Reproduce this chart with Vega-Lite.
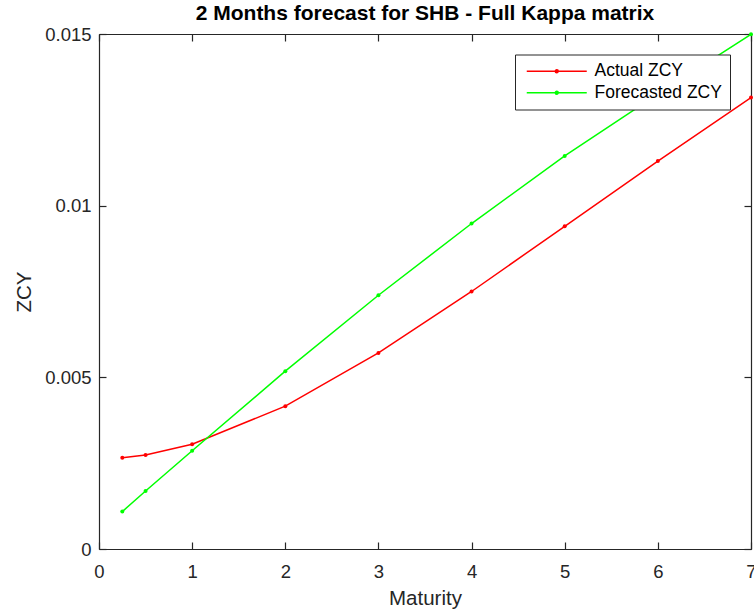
{
  "$schema": "https://vega.github.io/schema/vega-lite/v6.json",
  "width": 652,
  "height": 515,
  "autosize": "none",
  "padding": {"left": 99, "top": 34, "right": 3, "bottom": 63},
  "background": "white",
  "config": {
    "font": "Liberation Sans",
    "view": {"stroke": null},
    "axis": {
      "grid": false,
      "domainColor": "#262626",
      "tickColor": "#262626",
      "labelColor": "#262626",
      "titleColor": "#262626",
      "domainWidth": 1.2,
      "tickWidth": 1.2,
      "labelFont": "Liberation Sans",
      "titleFont": "Liberation Sans",
      "labelFontSize": 18.5,
      "titleFontSize": 20.5,
      "titleFontWeight": "normal",
      "labelFlush": false,
      "labelOverlap": false
    }
  },
  "title": {
    "text": "2 Months forecast for SHB - Full Kappa matrix",
    "font": "Liberation Sans",
    "fontSize": 21,
    "fontWeight": "bold",
    "color": "#000000",
    "anchor": "middle",
    "frame": "group",
    "baseline": "bottom",
    "offset": 0,
    "dy": 19.5
  },
  "data": {
    "values": [
      {"maturity": 0.25, "series": "Actual ZCY", "zcy": 0.00266},
      {"maturity": 0.5, "series": "Actual ZCY", "zcy": 0.00274},
      {"maturity": 1, "series": "Actual ZCY", "zcy": 0.00305},
      {"maturity": 2, "series": "Actual ZCY", "zcy": 0.00416},
      {"maturity": 3, "series": "Actual ZCY", "zcy": 0.00571},
      {"maturity": 4, "series": "Actual ZCY", "zcy": 0.0075},
      {"maturity": 5, "series": "Actual ZCY", "zcy": 0.0094},
      {"maturity": 6, "series": "Actual ZCY", "zcy": 0.0113},
      {"maturity": 7, "series": "Actual ZCY", "zcy": 0.01315},
      {"maturity": 0.25, "series": "Forecasted ZCY", "zcy": 0.00109},
      {"maturity": 0.5, "series": "Forecasted ZCY", "zcy": 0.00169},
      {"maturity": 1, "series": "Forecasted ZCY", "zcy": 0.00286},
      {"maturity": 2, "series": "Forecasted ZCY", "zcy": 0.00518},
      {"maturity": 3, "series": "Forecasted ZCY", "zcy": 0.00739},
      {"maturity": 4, "series": "Forecasted ZCY", "zcy": 0.00948},
      {"maturity": 5, "series": "Forecasted ZCY", "zcy": 0.01145},
      {"maturity": 6, "series": "Forecasted ZCY", "zcy": 0.01325},
      {"maturity": 7, "series": "Forecasted ZCY", "zcy": 0.01499}
    ]
  },
  "layer": [
    {
      "mark": {"type": "line", "strokeWidth": 1.5, "clip": true},
      "encoding": {
        "x": {
          "field": "maturity", "type": "quantitative",
          "scale": {"domain": [0, 7], "nice": false, "zero": false},
          "axis": {
            "orient": "bottom", "values": [0, 1, 2, 3, 4, 5, 6, 7],
            "tickSize": -7, "labelPadding": 20, "title": "Maturity", "titlePadding": 8
          }
        },
        "y": {
          "field": "zcy", "type": "quantitative",
          "scale": {"domain": [0, 0.015], "nice": false, "zero": false},
          "axis": {
            "orient": "left", "values": [0, 0.005, 0.01, 0.015], "format": ".3~f",
            "tickSize": -7, "labelPadding": 15, "title": "ZCY", "titlePadding": 10
          }
        },
        "color": {
          "field": "series", "type": "nominal",
          "scale": {"domain": ["Actual ZCY", "Forecasted ZCY"], "range": ["#ff0000", "#00ff00"]},
          "legend": {
            "orient": "none",
            "legendX": 416,
            "legendY": 20.5,
            "title": null,
            "labelFont": "Liberation Sans",
            "labelFontSize": 17.5,
            "labelColor": "#000000",
            "symbolType": "M-1,0H11M5.3,0A0.3,0.3 0 1 1 4.7,0A0.3,0.3 0 1 1 5.3,0",
            "symbolSize": 100,
            "symbolStrokeWidth": 1.5,
            "labelOffset": 54,
            "symbolOffset": 0,
            "padding": 8,
            "rowPadding": 2.5,
            "strokeColor": "#262626",
            "fillColor": "white"
          }
        }
      }
    },
    {
      "mark": {"type": "point", "filled": true, "size": 16, "opacity": 1, "clip": false},
      "encoding": {
        "x": {"field": "maturity", "type": "quantitative", "axis": null},
        "y": {"field": "zcy", "type": "quantitative", "axis": null},
        "color": {"field": "series", "type": "nominal", "legend": null}
      }
    },
    {
      "mark": {"type": "point", "opacity": 0},
      "encoding": {
        "x": {
          "field": "maturity", "type": "quantitative",
          "axis": {"orient": "top", "values": [0, 1, 2, 3, 4, 5, 6, 7], "labels": false, "title": null, "tickSize": -7}
        },
        "y": {
          "field": "zcy", "type": "quantitative",
          "axis": {"orient": "right", "values": [0, 0.005, 0.01, 0.015], "labels": false, "title": null, "tickSize": -7}
        }
      }
    }
  ],
  "resolve": {"axis": {"x": "independent", "y": "independent"}}
}
